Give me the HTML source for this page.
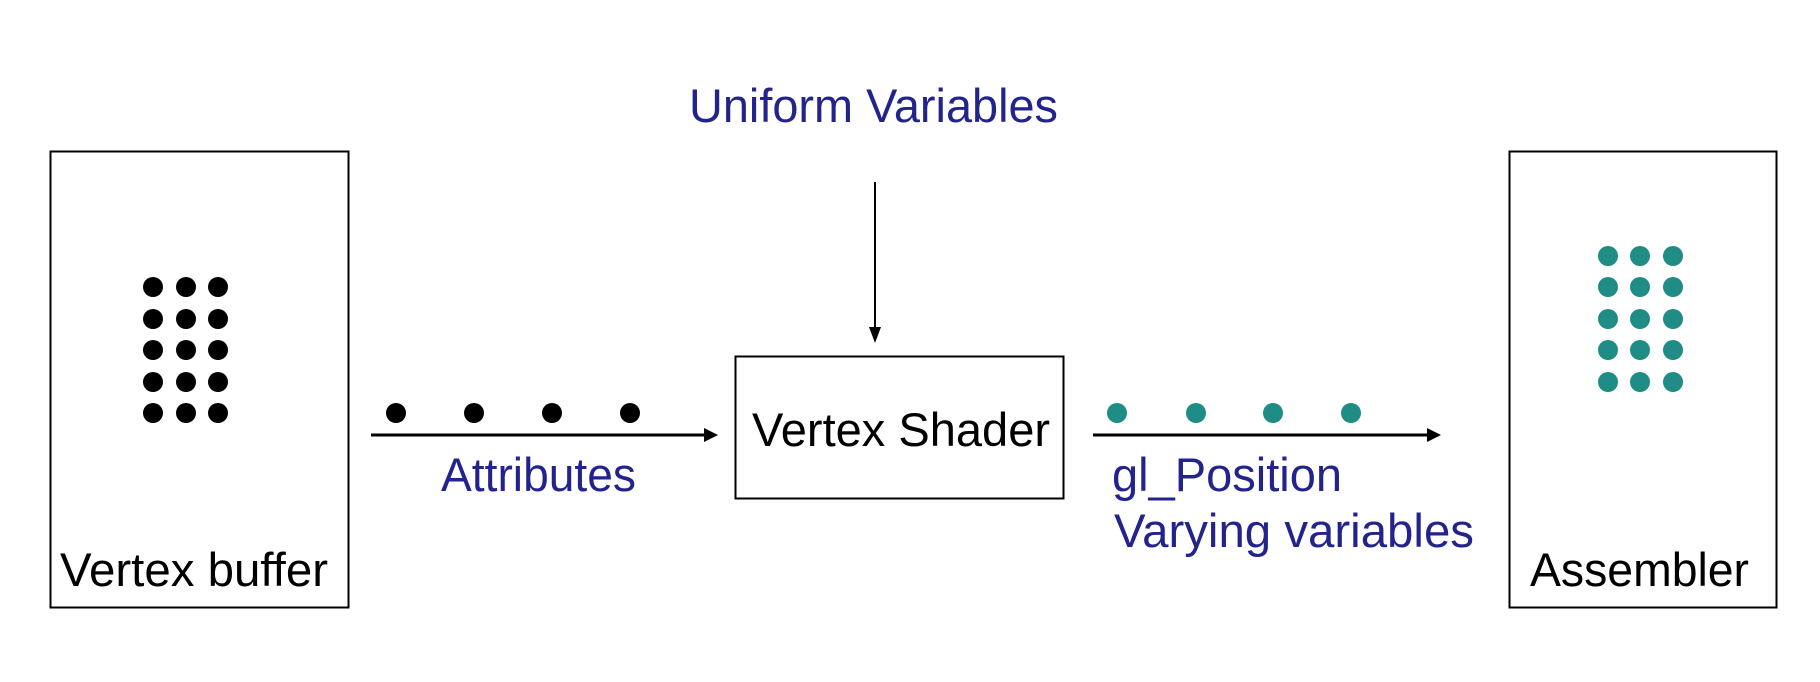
<!DOCTYPE html>
<html><head><meta charset="utf-8"><style>html,body{margin:0;padding:0;background:#fff;}svg{display:block}</style></head>
<body>
<svg width="1820" height="682" xmlns="http://www.w3.org/2000/svg" font-family="Liberation Sans, Arial, sans-serif" font-size="47">
<rect x="0" y="0" width="1820" height="682" fill="#fff"/>
<rect x="50.5" y="151.5" width="298" height="456" fill="none" stroke="#000" stroke-width="2"/>
<rect x="1509.5" y="151.5" width="267" height="456" fill="none" stroke="#000" stroke-width="2"/>
<rect x="735.5" y="356.5" width="328" height="142" fill="none" stroke="#000" stroke-width="2"/>
<g fill="#000">
<circle cx="153" cy="287" r="10"/><circle cx="186" cy="287" r="10"/><circle cx="218" cy="287" r="10"/>
<circle cx="153" cy="319" r="10"/><circle cx="186" cy="319" r="10"/><circle cx="218" cy="319" r="10"/>
<circle cx="153" cy="350" r="10"/><circle cx="186" cy="350" r="10"/><circle cx="218" cy="350" r="10"/>
<circle cx="153" cy="382" r="10"/><circle cx="186" cy="382" r="10"/><circle cx="218" cy="382" r="10"/>
<circle cx="153" cy="413" r="10"/><circle cx="186" cy="413" r="10"/><circle cx="218" cy="413" r="10"/>
<circle cx="396" cy="413" r="10"/><circle cx="474" cy="413" r="10"/><circle cx="552" cy="413" r="10"/><circle cx="630" cy="413" r="10"/>
</g>
<g fill="#1f8c86">
<circle cx="1608" cy="256" r="10"/><circle cx="1640" cy="256" r="10"/><circle cx="1673" cy="256" r="10"/>
<circle cx="1608" cy="287" r="10"/><circle cx="1640" cy="287" r="10"/><circle cx="1673" cy="287" r="10"/>
<circle cx="1608" cy="319" r="10"/><circle cx="1640" cy="319" r="10"/><circle cx="1673" cy="319" r="10"/>
<circle cx="1608" cy="350" r="10"/><circle cx="1640" cy="350" r="10"/><circle cx="1673" cy="350" r="10"/>
<circle cx="1608" cy="382" r="10"/><circle cx="1640" cy="382" r="10"/><circle cx="1673" cy="382" r="10"/>
<circle cx="1117" cy="413" r="10"/><circle cx="1196" cy="413" r="10"/><circle cx="1273" cy="413" r="10"/><circle cx="1351" cy="413" r="10"/>
</g>
<g stroke="#000" stroke-width="3">
<line x1="371" y1="435" x2="706" y2="435"/>
<line x1="1093" y1="435" x2="1429" y2="435"/>
<line x1="875" y1="182" x2="875" y2="330" stroke-width="2"/>
</g>
<g fill="#000">
<polygon points="718,435 704,428 704,442"/>
<polygon points="1441,435 1427,428 1427,442"/>
<polygon points="875,343 869,327 881,327"/>
</g>
<g fill="#000">
<text x="60" y="586" textLength="268" lengthAdjust="spacingAndGlyphs">Vertex buffer</text>
<text x="752" y="446" textLength="298" lengthAdjust="spacingAndGlyphs">Vertex Shader</text>
<text x="1530" y="586" textLength="219" lengthAdjust="spacingAndGlyphs">Assembler</text>
</g>
<g fill="#23238c">
<text x="689" y="122" textLength="369" lengthAdjust="spacingAndGlyphs">Uniform Variables</text>
<text x="441" y="491" textLength="195" lengthAdjust="spacingAndGlyphs">Attributes</text>
<text x="1112" y="491" textLength="230" lengthAdjust="spacingAndGlyphs">gl_Position</text>
<text x="1114" y="547" textLength="360" lengthAdjust="spacingAndGlyphs">Varying variables</text>
</g>
</svg>
</body></html>
